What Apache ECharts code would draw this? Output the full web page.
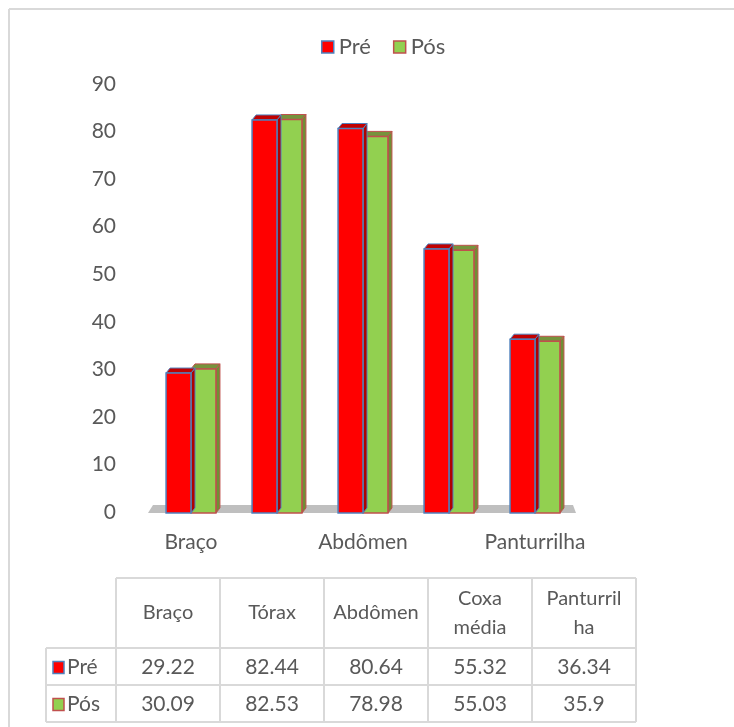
<!DOCTYPE html>
<html>
<head>
<meta charset="utf-8">
<script src="https://cdn.jsdelivr.net/npm/echarts@6/dist/echarts.min.js"></script>
<style>
html,body{margin:0;padding:0;background:#fff;}
#main{width:734px;height:727px;}
</style>
</head>
<body>
<div id="main"></div>
<script>
// ---- data ----
const categories = ['Braço', 'Tórax', 'Abdômen', 'Coxa média', 'Panturrilha'];
const tableHeaders = ['Braço', 'Tórax', 'Abdômen', 'Coxa\nmédia', 'Panturril\nha'];
const seriesNames = ['Pré', 'Pós'];
const preValues = [29.22, 82.44, 80.64, 55.32, 36.34];
const posValues = [30.09, 82.53, 78.98, 55.03, 35.9];
const yTicks = [0, 10, 20, 30, 40, 50, 60, 70, 80, 90];

// ---- styles ----
const FONT = 'Lato';
const TXT = '#595959';
const styles = [
  { fill: '#ff0000', top: '#c00000', side: '#b00000', border: '#4f81bd' },
  { fill: '#92d050', top: '#76933c', side: '#6f8f35', border: '#c0504d' }
];
const BAR_RATIO = 0.29;
const DX = 4, DY = 5;

function barRenderer(sIdx) {
  const st = styles[sIdx];
  return function (params, api) {
    const ci = api.value(0), v = api.value(1);
    const base = api.coord([ci, 0]);
    const tp = api.coord([ci, v]);
    const band = api.size([1, 0])[0];
    const w = band * BAR_RATIO;
    const x0 = base[0] - w + sIdx * w;
    const yb = base[1] + 1, yt = tp[1];
    return {
      type: 'group',
      children: [
        { type: 'polygon', shape: { points: [[x0 + w, yt], [x0 + w + DX, yt - DY], [x0 + w + DX, yb - DY], [x0 + w, yb]] },
          style: { fill: st.side, stroke: st.border, lineWidth: 1 } },
        { type: 'polygon', shape: { points: [[x0, yt], [x0 + DX, yt - DY], [x0 + w + DX, yt - DY], [x0 + w, yt]] },
          style: { fill: st.top, stroke: st.border, lineWidth: 1 } },
        { type: 'rect', shape: { x: x0, y: yt, width: w, height: yb - yt },
          style: { fill: st.fill, stroke: st.border, lineWidth: 1.5 } }
      ]
    };
  };
}

function floorRenderer(params, api) {
  const cs = params.coordSys;
  const y0 = api.coord([0, 0])[1];
  return {
    type: 'polygon',
    shape: { points: [[cs.x, y0 + 1], [cs.x + 5, y0 - 7], [cs.x + cs.width - 5, y0 - 7], [cs.x + cs.width - 2, y0 + 1]] },
    style: { fill: '#bfbfbf' }
  };
}

// ---- table (graphic) ----
const T = { left: 46, labelW: 70, colW: 104, top: 578, headH: 70, rowH: 37, line: '#d9d9d9' };
function buildTable() {
  const g = [];
  const x1 = T.left + T.labelW;
  const xr = x1 + T.colW * categories.length;
  const yH = T.top + T.headH;
  const yEnd = yH + T.rowH * seriesNames.length;
  const ls = { stroke: T.line, lineWidth: 2 };
  g.push({ type: 'line', shape: { x1: x1, y1: T.top, x2: xr, y2: T.top }, style: ls });
  for (let r = 0; r <= seriesNames.length; r++) {
    const y = yH + r * T.rowH;
    g.push({ type: 'line', shape: { x1: T.left, y1: y, x2: xr, y2: y }, style: ls });
  }
  g.push({ type: 'line', shape: { x1: T.left, y1: yH, x2: T.left, y2: yEnd }, style: ls });
  for (let c = 0; c <= categories.length; c++) {
    const x = x1 + c * T.colW;
    g.push({ type: 'line', shape: { x1: x, y1: T.top, x2: x, y2: yEnd }, style: ls });
  }
  tableHeaders.forEach((h, c) => {
    g.push({ type: 'text', x: x1 + c * T.colW + T.colW / 2, y: T.top + T.headH / 2,
      style: { text: h, font: '20px ' + FONT, fill: TXT, align: 'center', verticalAlign: 'middle', lineHeight: 29 } });
  });
  const rows = [preValues, posValues];
  rows.forEach((vals, r) => {
    const yc = yH + r * T.rowH + T.rowH / 2 + 1;
    const st = styles[r];
    g.push({ type: 'rect', shape: { x: T.left + 7, y: yc - 6, width: 11, height: 12 },
      style: { fill: st.fill, stroke: st.border, lineWidth: 1.5 } });
    g.push({ type: 'text', x: T.left + 21, y: yc,
      style: { text: seriesNames[r], font: '21px ' + FONT, fill: TXT, align: 'left', verticalAlign: 'middle' } });
    vals.forEach((v, c) => {
      g.push({ type: 'text', x: x1 + c * T.colW + T.colW / 2, y: yc,
        style: { text: String(v), font: '21px ' + FONT, fill: TXT, align: 'center', verticalAlign: 'middle' } });
    });
  });
  g.push({ type: 'line', shape: { x1: 9, y1: 9, x2: 734, y2: 9 }, style: { stroke: '#d9d9d9', lineWidth: 2 } });
  g.push({ type: 'line', shape: { x1: 9, y1: 9, x2: 9, y2: 727 }, style: { stroke: '#d9d9d9', lineWidth: 2 } });
  return g;
}

const chart = echarts.init(document.getElementById('main'), null, { renderer: 'canvas' });
chart.setOption({
  animation: false,
  backgroundColor: '#ffffff',
  textStyle: { fontFamily: FONT },
  legend: {
    top: 31, left: 316,
    itemWidth: 12, itemHeight: 12, itemGap: 22,
    icon: 'rect',
    textStyle: { fontSize: 22, color: TXT, fontFamily: FONT },
    data: seriesNames.map((n, i) => ({ name: n, itemStyle: { color: styles[i].fill, borderColor: styles[i].border, borderWidth: 1.5 } }))
  },
  grid: { left: 148, right: 156, top: 84, bottom: 215, containLabel: false },
  xAxis: {
    type: 'category',
    data: categories,
    axisLine: { show: false },
    axisTick: { show: false },
    axisLabel: { interval: 1, fontSize: 21, color: TXT, fontFamily: FONT, margin: 20 }
  },
  yAxis: {
    type: 'value',
    min: yTicks[0], max: yTicks[yTicks.length - 1], interval: yTicks[1] - yTicks[0],
    axisLine: { show: false },
    axisTick: { show: false },
    splitLine: { show: false },
    axisLabel: { fontSize: 21, color: TXT, fontFamily: FONT, margin: 32 }
  },
  series: [
    { type: 'custom', name: '_floor', renderItem: floorRenderer, data: [[0, 0]], z: 1, silent: true },
    { type: 'custom', name: seriesNames[0], renderItem: barRenderer(0), z: 3,
      itemStyle: { color: styles[0].fill, borderColor: styles[0].border },
      data: preValues.map((v, i) => [i, v]), encode: { x: 0, y: 1 } },
    { type: 'custom', name: seriesNames[1], renderItem: barRenderer(1), z: 2,
      itemStyle: { color: styles[1].fill, borderColor: styles[1].border },
      data: posValues.map((v, i) => [i, v]), encode: { x: 0, y: 1 } }
  ],
  graphic: { elements: buildTable() }
});
</script>
</body>
</html>
